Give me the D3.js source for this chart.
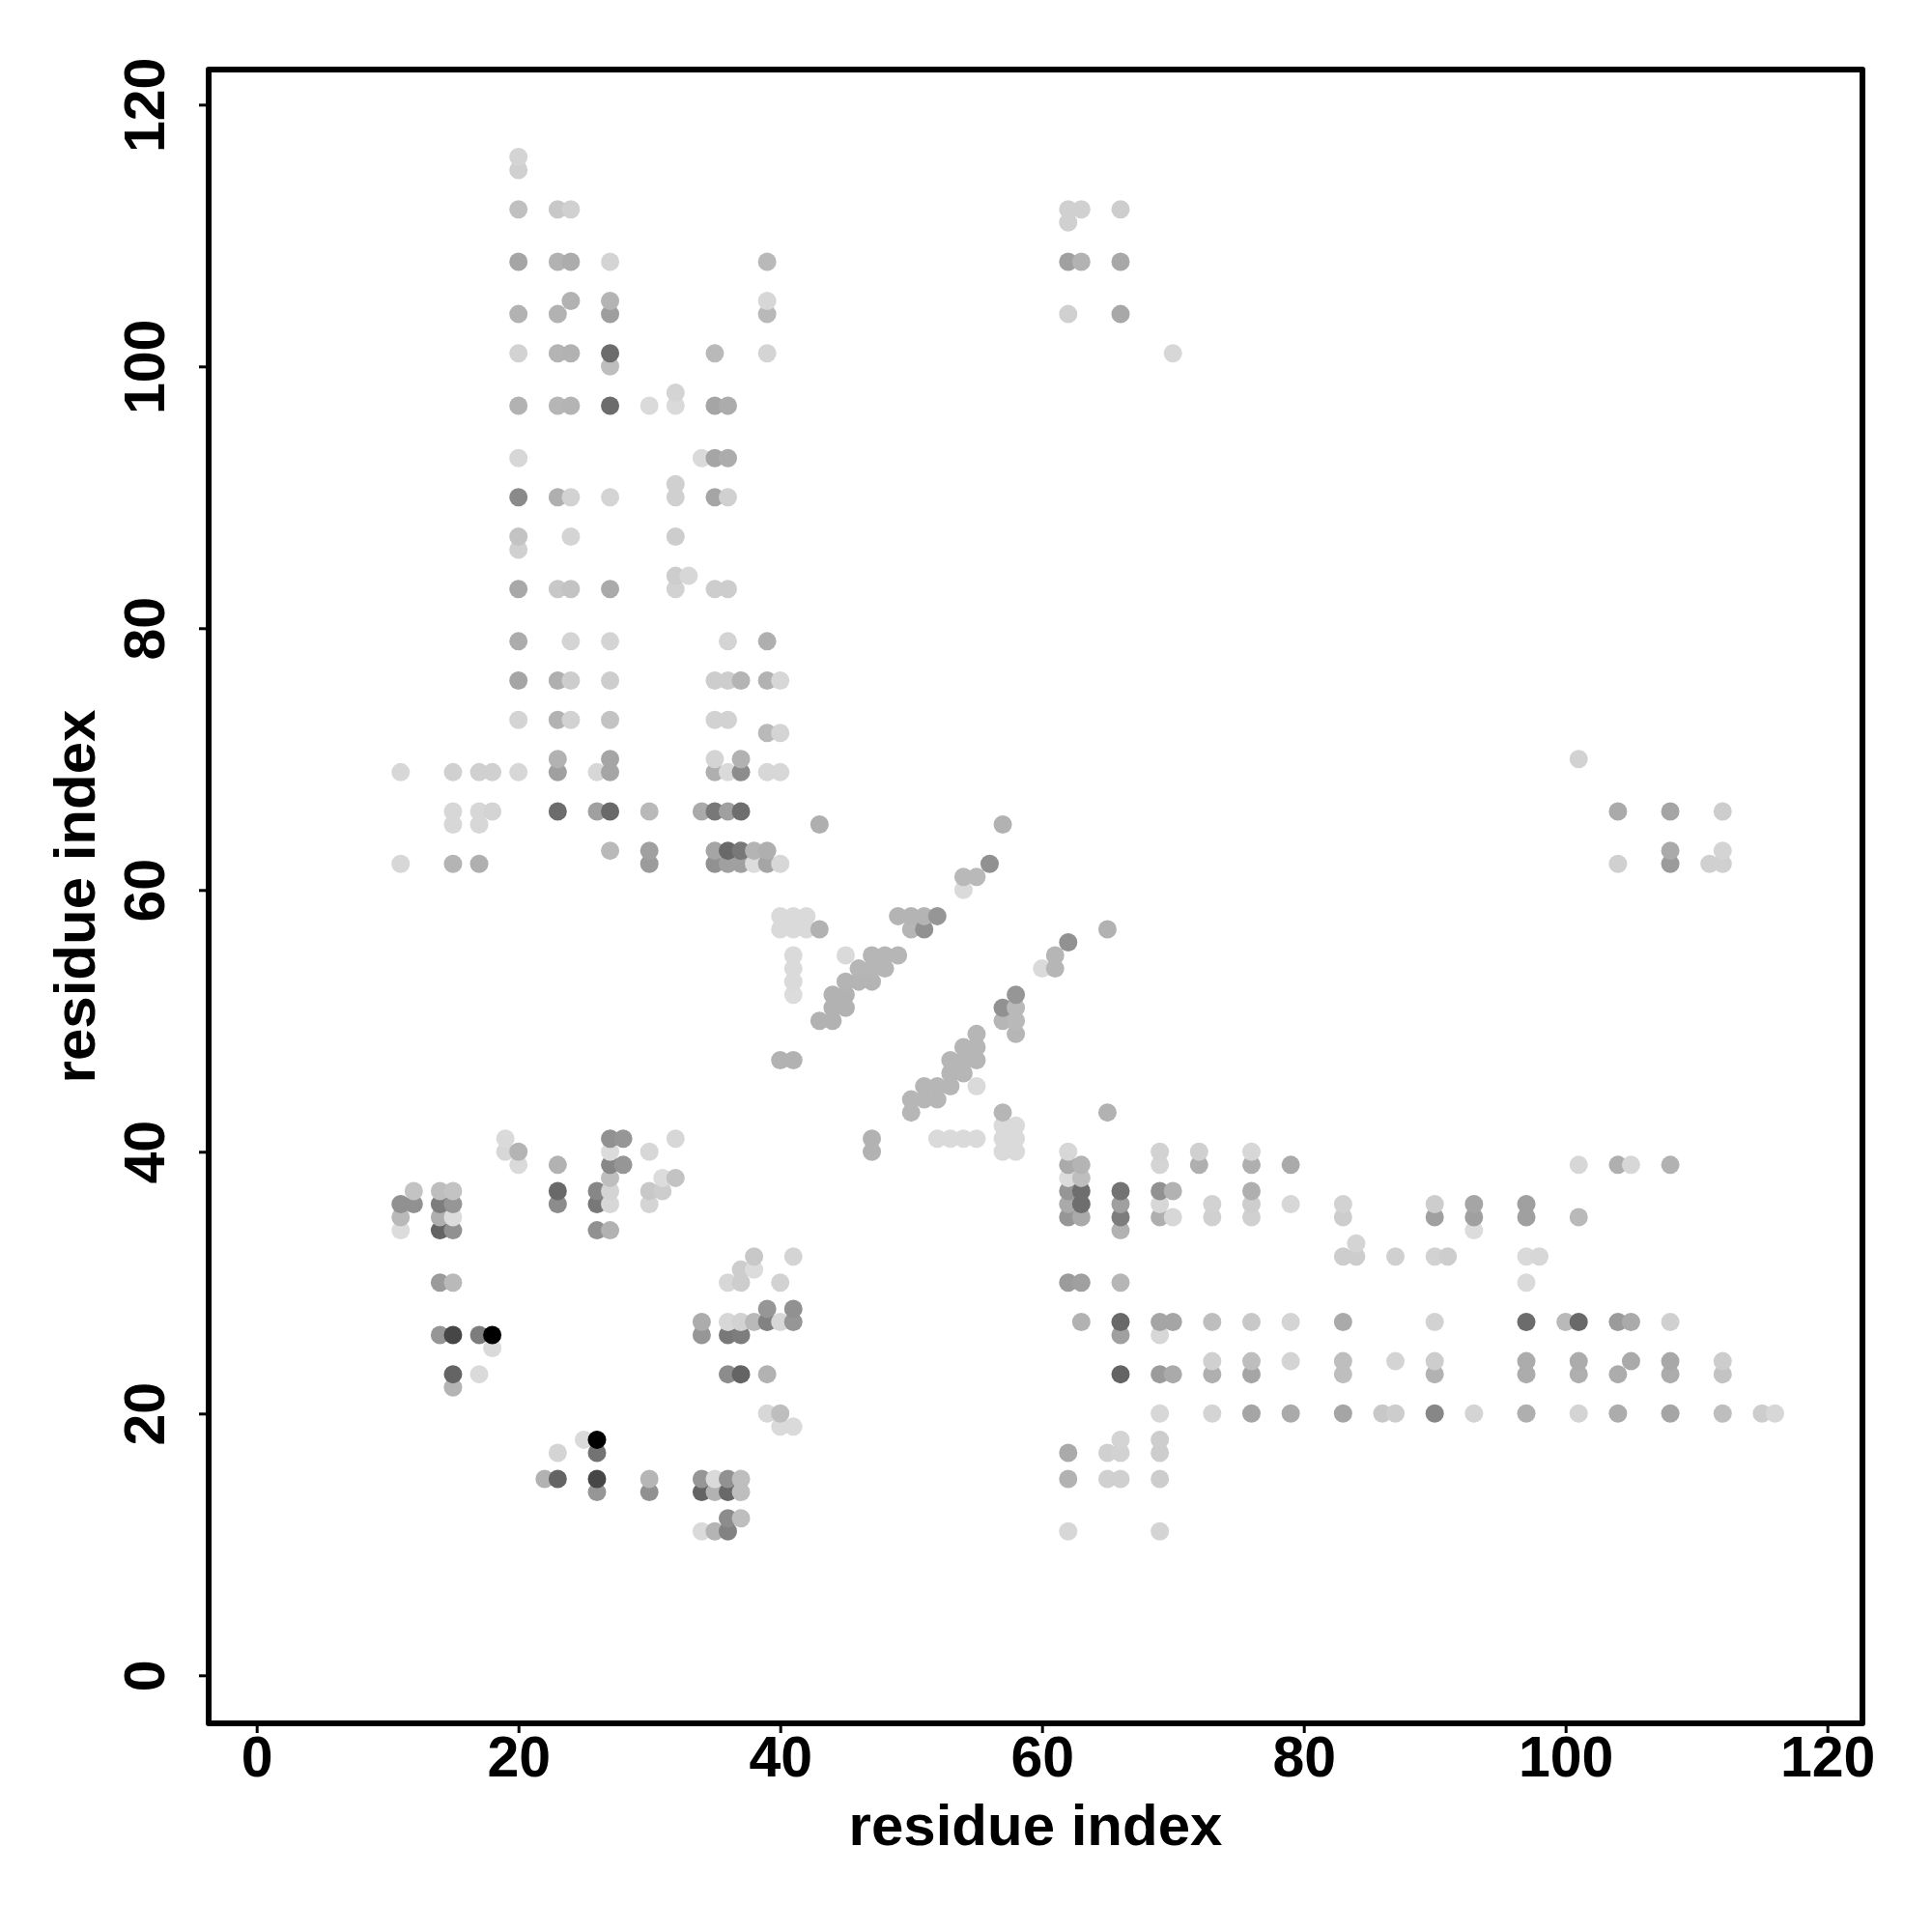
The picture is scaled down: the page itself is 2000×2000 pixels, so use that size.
<!DOCTYPE html>
<html>
<head>
<meta charset="utf-8">
<script src="https://cdn.jsdelivr.net/npm/d3@7"></script>
<style>html,body{margin:0;padding:0;background:#fff}svg{display:block}</style>
</head>
<body>
<script>
const axisTicks = [0, 20, 40, 60, 80, 100, 120];
const xTitle = "residue index";
const yTitle = "residue index";

const rowY = [11,12,14,15,17,18,19,20,22,23,24,25,26,27,28,30,31,32,33,34,35,36,37,38,39,40,41,42,43,44,45,46,47,48,49,50,51,52,53,54,55,56,57,58,60,61,62,63,65,66,69,70,72,73,76,79,83,84,86,87,90,91,93,97,98,100,101,104,105,108,111,112,115,116];

const rowX = [
[34,35,36,62,69],
[36,37],
[26,30,34,35,36,37],
[22,23,26,30,34,35,36,37,62,65,66,69],
[23,26,62,65,66,69],
[25,26,66,69],
[40,41],
[39,40,69,73,76,79,83,86,87,90,93,97,101,104,108,112,115,116],
[15],
[15,17,36,37,39,66,69,70,73,76,83,90,97,101,104,108,112],
[73,76,79,83,87,90,97,101,105,108,112],
[18],
[14,15,17,18,34,36,37,66,69],
[34,36,37,38,39,40,41,63,66,69,70,73,76,79,83,90,97,100,101,104,105,108],
[39,41],
[14,15,36,37,40,62,63,66,97],
[37,38],
[38,41,83,84,87,90,91,97,98],
[84],
[11,14,15,26,27,66,93],
[11,14,15,62,63,66,69,70,73,76,83,90,93,97,101],
[11,12,14,15,23,26,27,30,62,63,66,69,73,76,79,83,90,93,97],
[12,14,15,23,26,27,30,31,62,63,66,69,70,76],
[27,31,32,62,63],
[20,23,27,28,62,63,69,72,76,79,101,104,105,108],
[19,20,27,30,47,57,58,62,69,72,76],
[19,27,28,32,47,52,53,54,55,57,58],
[57,58],
[50,57,65],
[50,51,52],
[51,52,53,55],
[53,54],
[40,41,53,54,55],
[54,55],
[55,58],
[43,44,57,58],
[44,45,57,58],
[41,44,45,58],
[41,45,46,47],
[41,46,47,48,60,61],
[41,45,47,48,49,61],
[62],
[40,41,42,43,50,51,65],
[40,41,42,49,50,51,52],
[54],
[54,55],
[11,15,17,30,35,36,37,38,39,40,56,104,108,111,112],
[27,30,35,36,37,38,39,108,112],
[15,17,43,57],
[15,17,18,23,26,27,30,34,35,36,37,104,108,112],
[11,15,17,18,20,23,26,27,35,36,37,39,40],
[23,27,35,37,101],
[39,40],
[20,23,24,27,35,36],
[20,23,24,27,35,36,37,39,40],
[20,24,27,36,39],
[20,23,24,27,32,35,36],
[32,33],
[20],
[20,24,32],
[20,23,24,27,32,35,36],
[32],
[20,34,35,36],
[20,23,24,27,30,32,35,36],
[32],
[27],
[20,23,24,27,35,39,70],
[20,23,27,39,62,66],
[24,27,39],
[20,23,24,27,39,62,63,66],
[62],
[20,23,24,62,63,66],
[20],
[20]
];

const rowLevel = [
[218,180,130,215,212],
[140,190],
[150,145,100,178,105,190],
[178,100,70,182,150,218,145,190,178,208,208,205],
[212,115,170,208,210,205],
[218,0,212,205],
[218,218],
[215,190,215,212,165,170,165,200,205,135,212,175,212,172,165,190,205,215],
[180],
[100,218,140,100,178,100,155,170,175,165,190,178,172,175,172,172,195],
[208,190,212,190,212,205,172,172,170,168,205],
[218],
[150,70,125,0,150,120,125,160,215],
[172,215,210,185,130,215,150,178,105,165,165,190,200,212,170,210,108,185,105,155,170,208],
[150,145],
[155,185,215,205,210,155,160,182,218],
[205,220],
[200,212,205,205,208,210,205,218,215],
[212],
[220,100,145,145,178,178,220],
[185,175,220,150,170,125,175,215,208,208,205,160,160,160,185],
[145,145,125,150,140,120,215,212,170,110,160,215,210,205,215,210,205,165,160],
[195,190,195,105,135,212,200,205,150,110,115,145,178,175],
[190,220,195,220,190],
[218,178,135,150,170,180,212,175,175,170,215,175,215,178],
[215,180,220,215,178,218,218,215,210,208,215],
[218,145,150,215,178,218,218,218,218,218,218],
[218,218],
[182,182,178],
[182,182,182],
[182,182,182,218],
[182,182],
[178,178,182,182,182],
[182,182],
[182,182],
[178,178,182,185],
[178,178,145,185],
[220,178,178,150],
[218,180,180,180],
[218,182,182,182,218,182],
[218,218,182,182,182,182],
[145],
[218,218,218,178,182,145,178],
[218,218,218,180,180,180,150],
[218],
[185,185],
[215,180,175,155,145,160,160,220,165,215,145,208,155,208,208],
[185,160,165,105,120,180,175,170,212],
[215,215,175,178],
[215,215,212,108,160,105,185,170,120,160,110,170,165,205],
[215,208,208,208,215,160,215,165,175,218,140,215,215],
[178,165,212,178,210],
[185,212],
[212,178,210,195,210,210],
[165,175,205,205,205,205,180,178,215],
[172,212,212,212,175],
[168,200,195,170,210,205,205],
[205,215],
[208],
[195,212,205],
[138,175,210,212,208,165,208],
[208],
[215,218,165,172],
[178,182,180,108,218,218,165,172],
[212],
[190],
[210,180,178,108,185,212,215],
[178,178,158,185,208,168],
[178,180,215],
[165,178,172,212,185,160,178,168],
[208],
[192,200,208,208,208,205],
[208],
[212]
];

const W = 2000, H = 2000;
const frame = { left: 216, right: 1928, top: 72, bottom: 1784 };

const x = d3.scaleLinear().domain([-3.668, 122.68]).range([frame.left, frame.right]);
const y = d3.scaleLinear().domain([-3.668, 122.68]).range([frame.bottom, frame.top]);
const shade = d3.scaleLinear().domain([0, 255]).range(["#000000", "#ffffff"]);

const contacts = rowY.flatMap((yv, i) =>
  rowX[i].map((xv, j) => ({ x: xv, y: yv, level: rowLevel[i][j] })));

const svg = d3.select("body").append("svg").attr("width", W).attr("height", H)
  .style("font-family", "'Liberation Sans', Arial, Helvetica, sans-serif")
  .style("font-weight", "bold");

svg.append("g").selectAll("circle").data(contacts).join("circle")
  .attr("cx", d => x(d.x))
  .attr("cy", d => y(d.y))
  .attr("r", 9.5)
  .attr("fill", d => shade(d.level));

svg.append("rect")
  .attr("x", frame.left).attr("y", frame.top)
  .attr("width", frame.right - frame.left).attr("height", frame.bottom - frame.top)
  .attr("fill", "none").attr("stroke", "#000").attr("stroke-width", 6)
  .attr("stroke-linejoin", "round");

const gx = svg.append("g").attr("transform", `translate(0,${frame.bottom})`)
  .call(d3.axisBottom(x).tickValues(axisTicks).tickSize(10).tickPadding(0).tickFormat(d3.format("d")));
gx.select(".domain").remove();
gx.selectAll("line").attr("stroke", "#000").attr("stroke-width", 3);
gx.selectAll("text").attr("y", 55).attr("dy", 0).attr("font-size", 59).attr("fill", "#000")
  .attr("font-family", null).attr("font-weight", "bold");

const gy = svg.append("g").attr("transform", `translate(${frame.left},0)`)
  .call(d3.axisLeft(y).tickValues(axisTicks).tickSize(10).tickPadding(0).tickFormat(d3.format("d")));
gy.select(".domain").remove();
gy.selectAll("line").attr("stroke", "#000").attr("stroke-width", 3);
gy.selectAll("text")
  .attr("x", null).attr("dy", 0)
  .attr("text-anchor", "middle")
  .attr("transform", "translate(-46,0) rotate(-90)")
  .attr("font-size", 59).attr("fill", "#000");

svg.append("text").attr("x", (frame.left + frame.right) / 2).attr("y", 1910)
  .attr("text-anchor", "middle").attr("font-size", 60).attr("fill", "#000").text(xTitle);

svg.append("text")
  .attr("transform", `translate(98,${(frame.top + frame.bottom) / 2}) rotate(-90)`)
  .attr("text-anchor", "middle").attr("font-size", 60).attr("fill", "#000").text(yTitle);
</script>
</body>
</html>
